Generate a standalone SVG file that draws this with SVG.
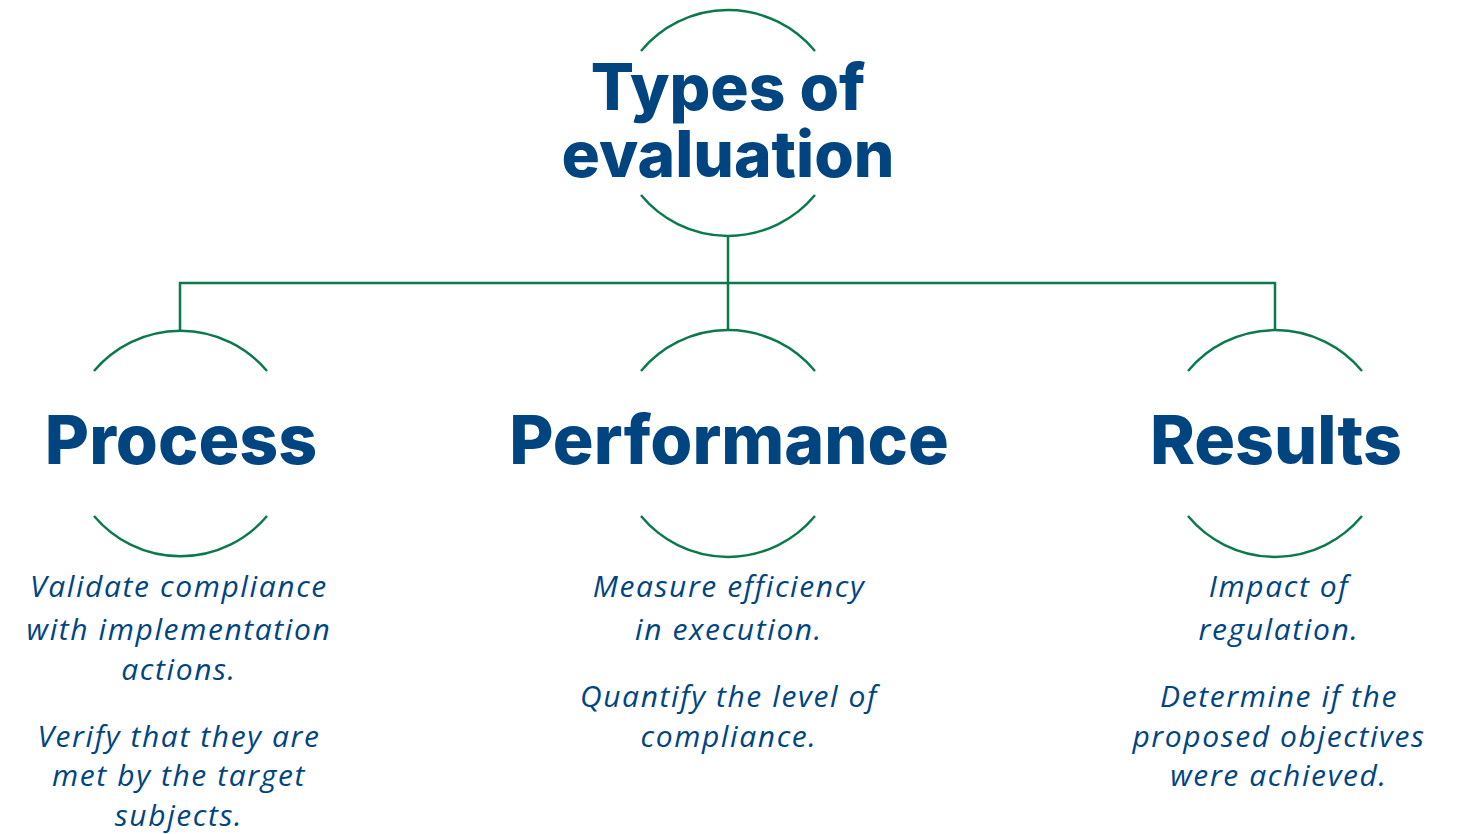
<svg xmlns="http://www.w3.org/2000/svg" width="1458" height="834" viewBox="0 0 1458 834">
<style>
.arc{fill:none;stroke:#0B7A4B;stroke-width:2.5}
.conn{fill:none;stroke:#0B7A4B;stroke-width:2.5}
.title{font-family:Inter,"Open Sans",sans-serif;font-weight:800;fill:#004580;text-anchor:middle}
.body{font-family:"Open Sans",Lato,sans-serif;font-style:italic;font-size:30px;letter-spacing:1.6px;fill:#004580;text-anchor:middle}
</style>
<rect width="1458" height="834" fill="#fff"/>
<g id="connectors">
<path class="conn" d="M728 236V330M180 330V283H1275V330"/>
</g>
<g id="node-types">
<path class="arc" d="M641 51A113 113 0 0 1 815 51M641 195A113 113 0 0 0 815 195"/>
<text class="title" font-size="64"><tspan x="728" y="110">Types of</tspan><tspan x="728" y="177">evaluation</tspan></text>
</g>
<g id="node-process">
<path class="arc" d="M94 371A113 113 0 0 1 267 371M94 516A113 113 0 0 0 267 516"/>
<text class="title" font-size="68" x="181" y="464">Process</text>
<text class="body"><tspan x="179" y="597">Validate compliance</tspan><tspan x="179" y="640">with implementation</tspan><tspan x="179" y="680">actions.</tspan><tspan x="179" y="747">Verify that they are</tspan><tspan x="179" y="786">met by the target</tspan><tspan x="179" y="826">subjects.</tspan></text>
</g>
<g id="node-performance">
<path class="arc" d="M641 371A113 113 0 0 1 815 371M641 516A113 113 0 0 0 815 516"/>
<text class="title" font-size="68" x="729" y="464">Performance</text>
<text class="body"><tspan x="729" y="597">Measure efficiency</tspan><tspan x="729" y="640">in execution.</tspan><tspan x="729" y="707">Quantify the level of</tspan><tspan x="729" y="747">compliance.</tspan></text>
</g>
<g id="node-results">
<path class="arc" d="M1188 371A113 113 0 0 1 1362 371M1188 516A113 113 0 0 0 1362 516"/>
<text class="title" font-size="68" x="1276" y="464">Results</text>
<text class="body"><tspan x="1279" y="597">Impact of</tspan><tspan x="1279" y="640">regulation.</tspan><tspan x="1279" y="707">Determine if the</tspan><tspan x="1279" y="747">proposed objectives</tspan><tspan x="1279" y="786">were achieved.</tspan></text>
</g>
</svg>
